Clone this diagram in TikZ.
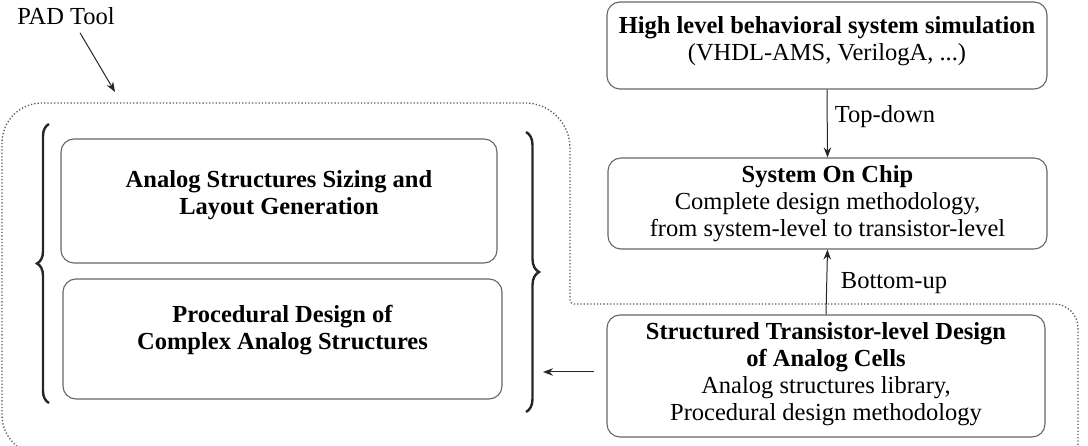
\documentclass[tikz,border=0pt]{standalone}
\usepackage{fontspec}
\setmainfont{Liberation Serif}
\usetikzlibrary{arrows.meta,decorations.pathreplacing,calc}
\begin{document}
\begin{tikzpicture}[x=1pt,y=-1pt,
  box/.style={draw=black!60,line width=1.1pt,rounded corners=13pt,align=center,
    inner sep=0pt,font=\fontsize{24.5}{27}\selectfont},
  txt/.style={align=center,inner sep=0pt,font=\fontsize{24.5}{27}\selectfont},
  lbl/.style={font=\fontsize{24.5}{27}\selectfont,inner sep=0pt},
  arr/.style={-{Stealth[length=10pt,width=7.5pt]},line width=1pt,black!85},
  dotline/.style={dotted,line width=1.3pt,black!65},
  bracestyle/.style={decorate,line width=2.4pt,black!85}]
\useasboundingbox (0,0) rectangle (1088,446);
\clip (0,0) rectangle (1088,446);
% dotted outline of the PAD tool
\draw[dotline] (200,455) [rounded corners=40pt] -- (2,455) [rounded corners=40pt] -- (2,103) [rounded corners=45pt] -- (570,103) [rounded corners=4pt] -- (570,304) [rounded corners=24pt] -- (1078,304) -- (1078,500);
% left boxes
\node[box,minimum width=436pt,minimum height=124pt] (sizing) at (279,201) {};
\node[txt] (sizingtxt) at ($(sizing.center)+(0,-6)$)
  {\bfseries Analog Structures Sizing and\\\bfseries Layout Generation};
\node[box,minimum width=439pt,minimum height=120pt] (proc) at (282.5,339) {};
\node[txt] (proctxt) at ($(proc.center)+(0,-9)$)
  {\bfseries Procedural Design of\\\bfseries Complex Analog Structures};
% braces
\coordinate (lb1) at (49,403); \coordinate (lb2) at (49,124);
\coordinate (rb1) at (526,132); \coordinate (rb2) at (526,412);
\draw[bracestyle,decoration={brace,amplitude=12pt}] (lb1) -- (lb2);
\draw[bracestyle,decoration={brace,amplitude=13pt}] (rb1) -- (rb2);
% right boxes
\node[box,minimum width=440pt,minimum height=87pt] (hl) at (827,45.5) {};
\node[txt] (hltxt) at ($(hl.center)+(0,-4)$)
  {\bfseries High level behavioral system simulation\\(VHDL-AMS, VerilogA, ...)};
\node[box,minimum width=439pt,minimum height=91pt] (soc) at (827.5,203.5)
  {\bfseries System On Chip\\Complete design methodology,\\from system-level to transistor-level};
\node[box,minimum width=438pt,minimum height=122pt] (struct) at (826,376) {};
\node[txt] (structtxt) at ($(struct.center)+(0,-2)$)
  {\bfseries Structured Transistor-level Design\\\bfseries of Analog Cells\\Analog structures library,\\Procedural design methodology};
% labels
\node[lbl] (td) at (885,117) {Top-down};
\node[lbl] (bu) at (894,283) {Bottom-up};
\node[lbl] (pad) at (66,16) {PAD Tool};
% arrows
\draw[arr] (hl.south) -- (soc.north);
\draw[arr] (struct.north) -- (soc.south);
\coordinate (lefttip) at (543,372);
\draw[arr] ($(struct.west)+(-12,-4)$) -- (lefttip);
\coordinate (padtip) at (115,92);
\draw[arr] ($(pad.south)+(14,8)$) -- (padtip);
\end{tikzpicture}
\end{document}
